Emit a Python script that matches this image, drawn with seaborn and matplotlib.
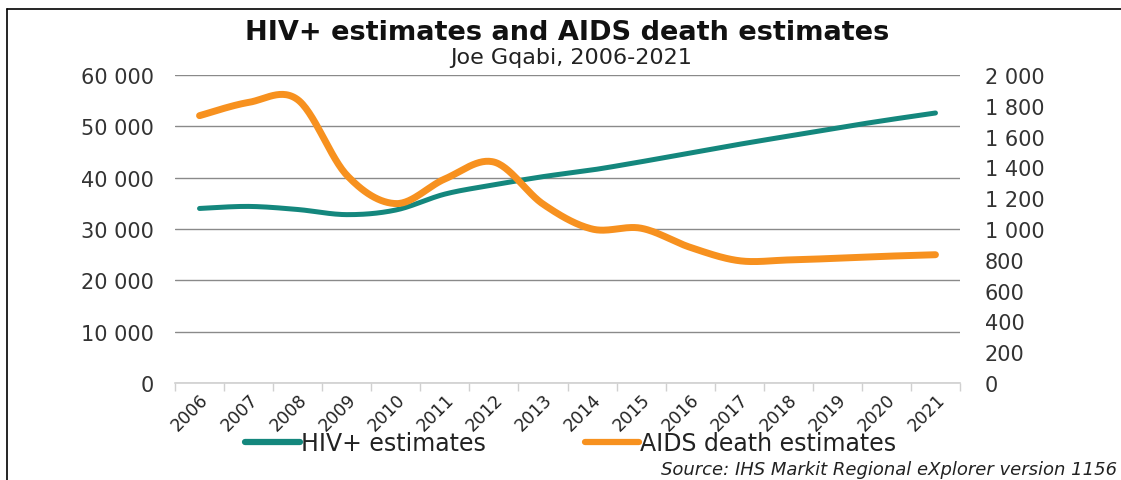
import numpy as np
import matplotlib
matplotlib.use("Agg")
import matplotlib.pyplot as plt
from matplotlib.lines import Line2D
from matplotlib.ticker import FuncFormatter, FixedLocator
import seaborn as sns

# ---- data -------------------------------------------------------------
years = [str(y) for y in range(2006, 2022)]
hiv_estimates = [34000, 34400, 33800, 32800, 33700, 36800, 38600, 40200,
                 41500, 43100, 44800, 46500, 48100, 49700, 51200, 52600]
aids_deaths = [1736, 1822, 1840, 1350, 1165, 1325, 1435, 1162,
               1000, 1005, 881, 794, 799, 810, 823, 833]

title = "HIV+ estimates and AIDS death estimates"
subtitle = "Joe Gqabi, 2006-2021"
source = "Source: IHS Markit Regional eXplorer version 1156"
left_ticks = [0, 10000, 20000, 30000, 40000, 50000, 60000]
right_ticks = list(range(0, 2001, 200))

TEAL = "#14877D"
ORANGE = "#F7911F"


def smooth_curve(values, steps=30):
    """Cubic Bezier through the points (Catmull-Rom style control points)."""
    y = np.asarray(values, dtype=float)
    x = np.arange(len(y), dtype=float)
    pts = np.column_stack([x, y])
    n = len(pts)
    out = [pts[0]]
    t = np.linspace(0, 1, steps + 1)[1:]
    for i in range(n - 1):
        p0 = pts[i - 1] if i > 0 else pts[i]
        p1 = pts[i]
        p2 = pts[i + 1]
        p3 = pts[i + 2] if i + 2 < n else pts[i + 1]
        c1 = p1 + (p2 - p0) / 6.0
        c2 = p2 - (p3 - p1) / 6.0
        seg = ((1 - t) ** 3)[:, None] * p1 + (3 * (1 - t) ** 2 * t)[:, None] * c1 \
            + (3 * (1 - t) * t ** 2)[:, None] * c2 + (t ** 3)[:, None] * p2
        out.extend(seg)
    out = np.array(out)
    return out[:, 0], out[:, 1]


def spaced(v, _pos=None):
    return f"{int(round(v)):,}".replace(",", " ")


# ---- figure -------------------------------------------------------------
sns.set_theme(style="white")
plt.rcParams["font.family"] = ["DejaVu Sans"]

W, H = 1121, 481
fig = plt.figure(figsize=(W / 100, H / 100), dpi=100)
fig.patch.set_facecolor("white")

L, R, T, B = 175, 960, 76, 384
ax = fig.add_axes([L / W, 1 - B / H, (R - L) / W, (B - T) / H])
ax2 = ax.twinx()

hx, hy = smooth_curve(hiv_estimates)
dx, dy = smooth_curve(aids_deaths)
sns.lineplot(x=hx, y=hy, ax=ax, color=TEAL, linewidth=3.6, sort=False,
             estimator=None, solid_capstyle="round")
sns.lineplot(x=dx, y=dy, ax=ax2, color=ORANGE, linewidth=5.0, sort=False,
             estimator=None, solid_capstyle="round")

n = len(years)
ax.set_xlim(-0.5, n - 0.5)
ax.set_ylim(0, 60000)
ax2.set_ylim(0, 2000)

# horizontal gridlines for the left axis
ax.yaxis.set_major_locator(FixedLocator(left_ticks))
ax.yaxis.set_major_formatter(FuncFormatter(spaced))
ax.grid(axis="y", color="#8a8a8a", linewidth=1.0)
ax.grid(axis="x", visible=False)
ax.set_axisbelow(True)

ax2.yaxis.set_major_locator(FixedLocator(right_ticks))
ax2.yaxis.set_major_formatter(FuncFormatter(spaced))
ax2.grid(False)

# category axis: tick marks between categories, labels at centres
ax.xaxis.set_major_locator(FixedLocator(np.arange(-0.5, n, 1.0)))
ax.xaxis.set_major_formatter(FuncFormatter(lambda v, p: ""))
ax.set_xticks(np.arange(n), labels=years, minor=True)
ax.tick_params(axis="x", which="major", length=6, width=1, color="#d0d0d0",
               direction="out", bottom=True)
ax.tick_params(axis="x", which="minor", length=0, pad=5, labelsize=12.5,
               labelcolor="#222222", bottom=True)
for lab in ax.get_xticklabels(minor=True):
    lab.set_rotation(45)
    lab.set_ha("right")
    lab.set_va("top")
    lab.set_rotation_mode("anchor")

ax.tick_params(axis="y", length=0, pad=15, labelsize=15, labelcolor="#333333")
ax2.tick_params(axis="y", length=0, pad=18, labelsize=15, labelcolor="#333333")
ax.set_xlabel("")
ax.set_ylabel("")
ax2.set_ylabel("")

for a in (ax, ax2):
    for side in ("top", "left", "right", "bottom"):
        a.spines[side].set_visible(False)
ax.spines["bottom"].set_visible(True)
ax.spines["bottom"].set_color("#d0d0d0")
ax.spines["bottom"].set_linewidth(1.2)
ax2.patch.set_visible(False)

# titles
fig.text(567 / W, 1 - 33.5 / H, title, ha="center", va="center",
         fontsize=19.5, fontweight="bold", color="#111111")
fig.text(571 / W, 1 - 58.5 / H, subtitle, ha="center", va="center",
         fontsize=16, color="#222222")

# legend
handles = [Line2D([], [], color=TEAL, linewidth=4.5),
           Line2D([], [], color=ORANGE, linewidth=4.5)]
fig.legend(handles, ["HIV+ estimates", "AIDS death estimates"],
           loc="center", bbox_to_anchor=(571 / W, 1 - 444 / H), ncol=2,
           frameon=False, fontsize=17, handlelength=2.3, handletextpad=0.05,
           columnspacing=4.2, labelcolor="#222222")

# source note
fig.text(1117 / W, 1 - 479 / H, source, ha="right", va="bottom",
         fontsize=13, style="italic", color="#222222")

# outer frame (top and left edges)
fig.add_artist(Line2D([7 / W, 7 / W], [0, 1 - 10 / H],
                      transform=fig.transFigure, color="black", linewidth=1.2))
fig.add_artist(Line2D([7 / W, 1], [1 - 10 / H, 1 - 10 / H],
                      transform=fig.transFigure, color="black", linewidth=1.2))

fig.savefig("out.png", dpi=100, facecolor="white")
